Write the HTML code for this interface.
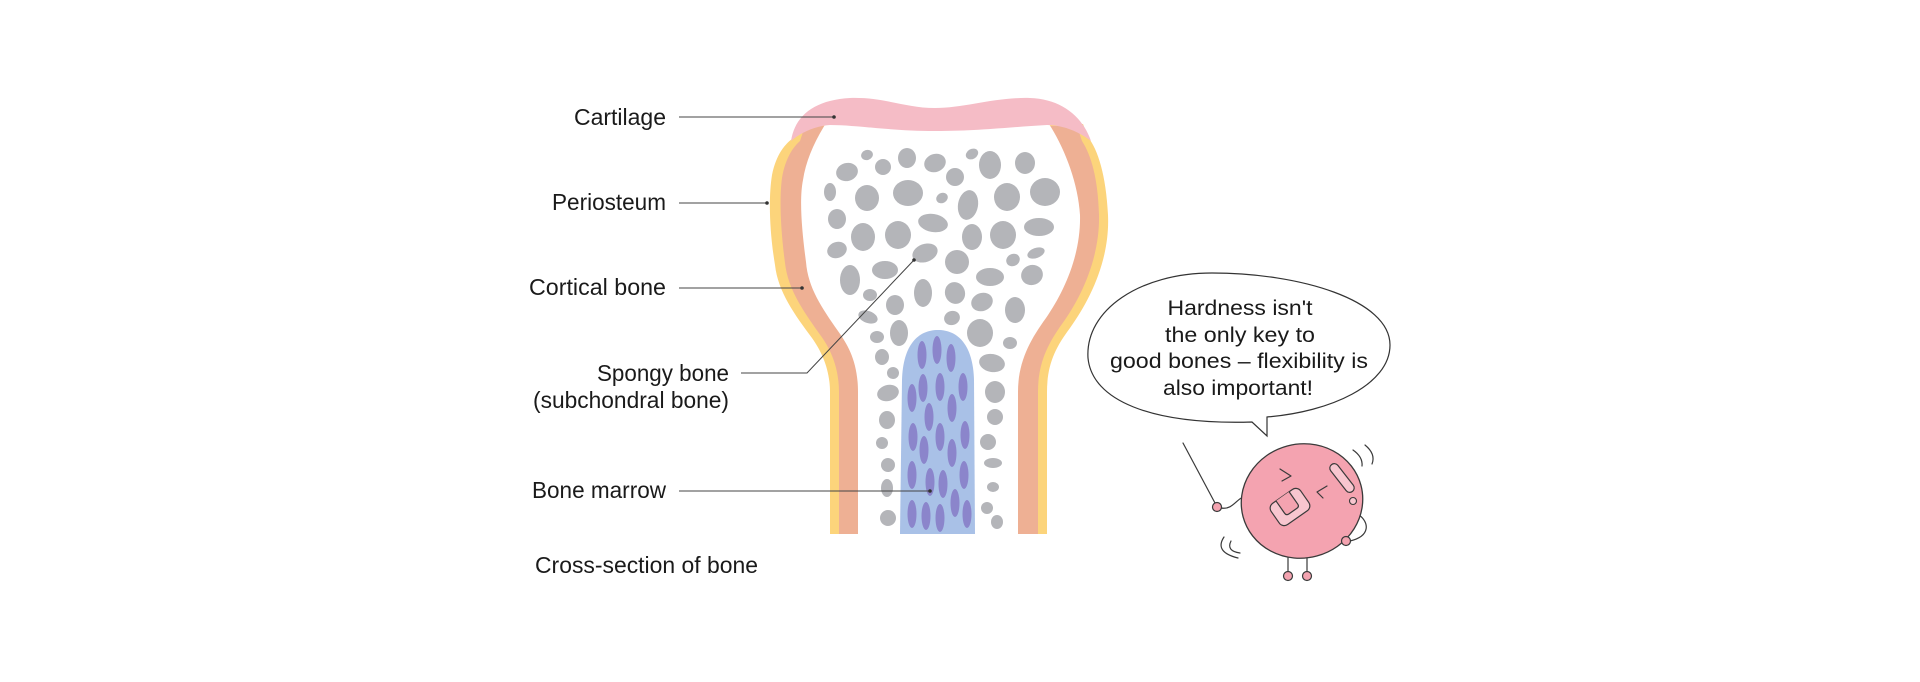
<!DOCTYPE html>
<html>
<head>
<meta charset="utf-8">
<style>
html,body{margin:0;padding:0;background:#fff;}
body{width:1920px;height:682px;overflow:hidden;}
svg{display:block;}
text{font-family:"Liberation Sans",Arial,sans-serif;fill:#1a1a1a;}
</style>
</head>
<body>
<svg width="1920" height="682" viewBox="0 0 1920 682" xmlns="http://www.w3.org/2000/svg">
<rect width="1920" height="682" fill="#fff"/>

<!-- Bone layers -->
<path d="M830,534 L830,392 C830,370 822,352 812,338 C795,315 778,292 775,265 C770,235 768,200 772,175 C776,155 785,143 795,137 L800,124 L1083,124 L1088,137 C1098,150 1106,175 1108,215 C1110,260 1090,300 1070,328 C1055,348 1047,365 1047,392 L1047,534 Z" fill="#fcd47b"/>
<path d="M839,534 L839,392 C839,368 831,350 821,336 C804,312 788,290 785,263 C781,233 779,200 782,178 C785,160 792,148 800,141 L805,126 L1077,126 L1082,141 C1091,155 1098,178 1099,215 C1100,258 1081,298 1062,324 C1047,345 1038,364 1038,392 L1038,534 Z" fill="#eeb094"/>
<path d="M858,534 L858,392 C858,362 848,345 838,331 C822,308 808,288 806,262 C802,232 799,200 803,180 C806,160 815,140 828,120 L1045,118 C1062,142 1078,180 1080,215 C1081,255 1064,292 1046,318 C1030,340 1018,362 1018,392 L1018,534 Z" fill="#ffffff"/>

<!-- Cartilage -->
<path d="M791,141 C795,115 815,100 850,98 C885,97 905,108 935,108 C965,108 995,97 1030,98 C1060,99 1082,115 1091,141 C1078,131 1062,125 1047,125 C1010,127 980,131 935,131 C890,131 857,125 830,125 C815,126 800,133 791,141 Z" fill="#f5bcc6"/>

<!-- Spongy bone blobs -->
<g fill="#b4b5b9">
<ellipse cx="867" cy="155" rx="6" ry="5" transform="rotate(-20 867 155)"/>
<ellipse cx="847" cy="172" rx="11" ry="9" transform="rotate(-15 847 172)"/>
<ellipse cx="883" cy="167" rx="8" ry="8"/>
<ellipse cx="907" cy="158" rx="9" ry="10"/>
<ellipse cx="935" cy="163" rx="11" ry="9" transform="rotate(-20 935 163)"/>
<ellipse cx="955" cy="177" rx="9" ry="9"/>
<ellipse cx="972" cy="154" rx="6.5" ry="5" transform="rotate(-30 972 154)"/>
<ellipse cx="990" cy="165" rx="11" ry="14"/>
<ellipse cx="1025" cy="163" rx="10" ry="11"/>
<ellipse cx="830" cy="192" rx="6" ry="9"/>
<ellipse cx="867" cy="198" rx="12" ry="13"/>
<ellipse cx="908" cy="193" rx="15" ry="13"/>
<ellipse cx="942" cy="198" rx="6" ry="5" transform="rotate(-30 942 198)"/>
<ellipse cx="968" cy="205" rx="10" ry="15" transform="rotate(10 968 205)"/>
<ellipse cx="1007" cy="197" rx="13" ry="14"/>
<ellipse cx="1045" cy="192" rx="15" ry="14"/>
<ellipse cx="837" cy="219" rx="9" ry="10"/>
<ellipse cx="863" cy="237" rx="12" ry="14"/>
<ellipse cx="898" cy="235" rx="13" ry="14"/>
<ellipse cx="933" cy="223" rx="15" ry="9" transform="rotate(10 933 223)"/>
<ellipse cx="972" cy="237" rx="10" ry="13"/>
<ellipse cx="1003" cy="235" rx="13" ry="14"/>
<ellipse cx="1039" cy="227" rx="15" ry="9"/>
<ellipse cx="837" cy="250" rx="10" ry="8" transform="rotate(-20 837 250)"/>
<ellipse cx="925" cy="253" rx="13" ry="9" transform="rotate(-20 925 253)"/>
<ellipse cx="957" cy="262" rx="12" ry="12"/>
<ellipse cx="1013" cy="260" rx="7" ry="6" transform="rotate(-30 1013 260)"/>
<ellipse cx="1036" cy="253" rx="9" ry="5" transform="rotate(-20 1036 253)"/>
<ellipse cx="850" cy="280" rx="10" ry="15"/>
<ellipse cx="885" cy="270" rx="13" ry="9"/>
<ellipse cx="923" cy="293" rx="9" ry="14"/>
<ellipse cx="955" cy="293" rx="10" ry="11" transform="rotate(-20 955 293)"/>
<ellipse cx="990" cy="277" rx="14" ry="9"/>
<ellipse cx="1032" cy="275" rx="11" ry="10" transform="rotate(-20 1032 275)"/>
<ellipse cx="870" cy="295" rx="7" ry="6"/>
<ellipse cx="895" cy="305" rx="9" ry="10"/>
<ellipse cx="982" cy="302" rx="11" ry="9" transform="rotate(-20 982 302)"/>
<ellipse cx="1015" cy="310" rx="10" ry="13"/>
<ellipse cx="868" cy="317" rx="10" ry="6" transform="rotate(20 868 317)"/>
<ellipse cx="899" cy="333" rx="9" ry="13"/>
<ellipse cx="952" cy="318" rx="8" ry="7" transform="rotate(-20 952 318)"/>
<ellipse cx="980" cy="333" rx="13" ry="14"/>
<ellipse cx="877" cy="337" rx="7" ry="6"/>
<ellipse cx="1010" cy="343" rx="7" ry="6"/>
<ellipse cx="882" cy="357" rx="7" ry="8"/>
<ellipse cx="992" cy="363" rx="13" ry="9" transform="rotate(10 992 363)"/>
<ellipse cx="893" cy="373" rx="6" ry="6"/>
<ellipse cx="888" cy="393" rx="11" ry="8" transform="rotate(-15 888 393)"/>
<ellipse cx="995" cy="392" rx="10" ry="11"/>
<ellipse cx="887" cy="420" rx="8" ry="9"/>
<ellipse cx="995" cy="417" rx="8" ry="8"/>
<ellipse cx="882" cy="443" rx="6" ry="6"/>
<ellipse cx="988" cy="442" rx="8" ry="8"/>
<ellipse cx="888" cy="465" rx="7" ry="7"/>
<ellipse cx="993" cy="463" rx="9" ry="5"/>
<ellipse cx="887" cy="488" rx="6" ry="9"/>
<ellipse cx="993" cy="487" rx="6" ry="5"/>
<ellipse cx="987" cy="508" rx="6" ry="6"/>
<ellipse cx="888" cy="518" rx="8" ry="8"/>
<ellipse cx="997" cy="522" rx="6" ry="7"/>
</g>

<!-- Bone marrow -->
<path d="M900,534 L902,380 C903,345 918,330 938,330 C958,330 973,345 974,380 L975,534 Z" fill="#a9c1e7"/>
<g fill="#8b85cb">
<ellipse cx="922" cy="355" rx="4.5" ry="14"/>
<ellipse cx="937" cy="350" rx="4.5" ry="14"/>
<ellipse cx="951" cy="358" rx="4.5" ry="14"/>
<ellipse cx="912" cy="398" rx="4.5" ry="14"/>
<ellipse cx="923" cy="388" rx="4.5" ry="14"/>
<ellipse cx="940" cy="387" rx="4.5" ry="14"/>
<ellipse cx="963" cy="387" rx="4.5" ry="14"/>
<ellipse cx="929" cy="417" rx="4.5" ry="14"/>
<ellipse cx="952" cy="408" rx="4.5" ry="14"/>
<ellipse cx="913" cy="437" rx="4.5" ry="14"/>
<ellipse cx="940" cy="437" rx="4.5" ry="14"/>
<ellipse cx="965" cy="435" rx="4.5" ry="14"/>
<ellipse cx="924" cy="450" rx="4.5" ry="14"/>
<ellipse cx="952" cy="453" rx="4.5" ry="14"/>
<ellipse cx="912" cy="475" rx="4.5" ry="14"/>
<ellipse cx="930" cy="482" rx="4.5" ry="14"/>
<ellipse cx="943" cy="484" rx="4.5" ry="14"/>
<ellipse cx="964" cy="475" rx="4.5" ry="14"/>
<ellipse cx="955" cy="503" rx="4.5" ry="14"/>
<ellipse cx="912" cy="514" rx="4.5" ry="14"/>
<ellipse cx="926" cy="516" rx="4.5" ry="14"/>
<ellipse cx="940" cy="518" rx="4.5" ry="14"/>
<ellipse cx="967" cy="514" rx="4.5" ry="14"/>
</g>

<!-- Leader lines -->
<g stroke="#444" stroke-width="1" fill="none">
<line x1="679" y1="117" x2="834" y2="117"/>
<line x1="679" y1="203" x2="767" y2="203"/>
<line x1="679" y1="288" x2="802" y2="288"/>
<polyline points="741,373 807,373 914,260"/>
<line x1="679" y1="491" x2="930" y2="491"/>
</g>
<g fill="#333">
<circle cx="834" cy="117" r="1.8"/>
<circle cx="767" cy="203" r="1.8"/>
<circle cx="802" cy="288" r="1.8"/>
<circle cx="914" cy="260" r="1.8"/>
<circle cx="930" cy="491" r="1.8"/>
</g>

<!-- Labels -->
<g font-size="23">
<text x="666" y="125" text-anchor="end" textLength="92" lengthAdjust="spacingAndGlyphs">Cartilage</text>
<text x="666" y="210" text-anchor="end" textLength="114" lengthAdjust="spacingAndGlyphs">Periosteum</text>
<text x="666" y="295" text-anchor="end" textLength="137" lengthAdjust="spacingAndGlyphs">Cortical bone</text>
<text x="729" y="381" text-anchor="end" textLength="132" lengthAdjust="spacingAndGlyphs">Spongy bone</text>
<text x="729" y="408" text-anchor="end" textLength="196" lengthAdjust="spacingAndGlyphs">(subchondral bone)</text>
<text x="666" y="498" text-anchor="end" textLength="134" lengthAdjust="spacingAndGlyphs">Bone marrow</text>
<text x="535" y="573" textLength="223" lengthAdjust="spacingAndGlyphs">Cross-section of bone</text>
</g>

<!-- Speech bubble -->
<path d="M1088,358 C1085,310 1140,273 1212,273 C1300,273 1390,300 1390,345 C1390,385 1330,412 1267,417 L1267,436 L1252,422 C1150,425 1092,400 1088,358 Z" fill="#fff" stroke="#333" stroke-width="1.2"/>
<g font-size="21" text-anchor="middle">
<text x="1240" y="315" textLength="145" lengthAdjust="spacingAndGlyphs">Hardness isn't</text>
<text x="1240" y="342" textLength="150" lengthAdjust="spacingAndGlyphs">the only key to</text>
<text x="1239" y="368" textLength="258" lengthAdjust="spacingAndGlyphs">good bones – flexibility is</text>
<text x="1238" y="395" textLength="150" lengthAdjust="spacingAndGlyphs">also important!</text>
</g>

<!-- Character -->
<g stroke="#3a3a3a" stroke-width="1.2" fill="none" stroke-linecap="round">
<line x1="1183" y1="443" x2="1215" y2="503"/>
<path d="M1221,508 C1232,510 1236,500 1243,497"/>
<path d="M1359,515 C1369,522 1371,536 1350,541"/>
<line x1="1288" y1="557" x2="1288" y2="572"/>
<line x1="1307" y1="557" x2="1307" y2="572"/>
<path d="M1353,450 Q1363,457 1362,466"/>
<path d="M1365,445 Q1376,454 1372,464"/>
<path d="M1224,537 Q1214,552 1238,558"/>
<path d="M1231,541 Q1226,551 1240,553"/>
</g>
<ellipse cx="1302" cy="501" rx="61" ry="57" transform="rotate(-15 1302 501)" fill="#f4a3b0" stroke="#3a3a3a" stroke-width="1.3"/>
<g fill="#f4a3b0" stroke="#3a3a3a" stroke-width="1.2">
<circle cx="1217" cy="507" r="4.5"/>
<circle cx="1346" cy="541" r="4.5"/>
<circle cx="1288" cy="576" r="4.5"/>
<circle cx="1307" cy="576" r="4.5"/>
</g>
<g stroke="#3a3a3a" stroke-width="1.2" fill="none" stroke-linecap="round" stroke-linejoin="round">
<polyline points="1280,469 1291,476 1282,481"/>
<polyline points="1327,486 1317,492 1323,498"/>
</g>
<g transform="translate(1290,507) rotate(-35)" stroke="#3a3a3a" stroke-width="1.2">
<rect x="-18" y="-13" width="36" height="26" rx="6" fill="#f8c6cf"/>
<path d="M-8,-13 L-8,2 Q-8,5 -5,5 L5,5 Q8,5 8,2 L8,-13" fill="#f4a3b0"/>
</g>
<g transform="translate(1342,478) rotate(52)" stroke="#3a3a3a" stroke-width="1.2">
<rect x="-17" y="-4.5" width="34" height="9" rx="4.5" fill="#f8c6cf"/>
</g>
<circle cx="1353" cy="501" r="3.5" fill="#f8c6cf" stroke="#3a3a3a" stroke-width="1.1"/>
</svg>
</body>
</html>
